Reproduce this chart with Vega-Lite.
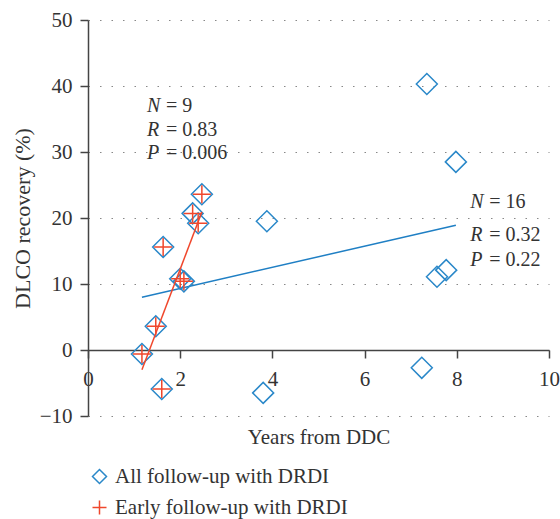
{
  "$schema": "https://vega.github.io/schema/vega-lite/v6.json",
  "width": 461,
  "height": 396,
  "autosize": {"type": "none"},
  "padding": {"left": 88, "top": 20, "right": 11, "bottom": 103},
  "config": {
    "view": {"stroke": null},
    "font": "Liberation Serif",
    "axis": {
      "labelFont": "Liberation Serif",
      "titleFont": "Liberation Serif",
      "labelFontSize": 21,
      "titleFontSize": 21,
      "titleFontWeight": "normal",
      "labelColor": "#333333",
      "titleColor": "#333333",
      "domainColor": "#444444",
      "tickColor": "#444444",
      "domainWidth": 1.5,
      "tickWidth": 1.5,
      "tickSize": 8
    },
    "legend": {
      "labelFont": "Liberation Serif",
      "labelFontSize": 21,
      "labelColor": "#333333",
      "labelLimit": 0
    }
  },
  "datasets": {
    "points": [
      {"years": 1.17, "dlco": -0.6, "early": true},
      {"years": 1.47, "dlco": 3.6, "early": true},
      {"years": 1.63, "dlco": 15.6, "early": true},
      {"years": 1.6, "dlco": -5.9, "early": true},
      {"years": 2.0, "dlco": 10.8, "early": true},
      {"years": 2.08, "dlco": 10.4, "early": true},
      {"years": 2.27, "dlco": 20.7, "early": true},
      {"years": 2.39, "dlco": 19.2, "early": true},
      {"years": 2.47, "dlco": 23.6, "early": true},
      {"years": 3.88, "dlco": 19.5, "early": false},
      {"years": 3.8, "dlco": -6.5, "early": false},
      {"years": 7.35, "dlco": 40.3, "early": false},
      {"years": 7.98, "dlco": 28.5, "early": false},
      {"years": 7.57, "dlco": 11.1, "early": false},
      {"years": 7.77, "dlco": 12.1, "early": false},
      {"years": 7.24, "dlco": -2.7, "early": false}
    ],
    "fits": [
      {"years": 1.17, "dlco": 8.0, "fit": "all"},
      {"years": 7.98, "dlco": 18.9, "fit": "all"},
      {"years": 1.17, "dlco": -3.0, "fit": "early"},
      {"years": 2.47, "dlco": 20.9, "fit": "early"}
    ],
    "notes": [
      {"years": 1.28, "dlco": 37.0, "letter": "N", "rest": "= 9"},
      {"years": 1.28, "dlco": 33.3, "letter": "R", "rest": "= 0.83"},
      {"years": 1.28, "dlco": 29.85, "letter": "P", "rest": "= 0.006"},
      {"years": 8.29, "dlco": 22.4, "letter": "N", "rest": "= 16"},
      {"years": 8.29, "dlco": 17.4, "letter": "R", "rest": "= 0.32"},
      {"years": 8.29, "dlco": 13.6, "letter": "P", "rest": "= 0.22"}
    ]
  },
  "encoding": {
    "x": {
      "field": "years",
      "type": "quantitative",
      "scale": {"domain": [0, 10], "nice": false, "zero": false},
      "axis": {
        "orient": "bottom",
        "offset": -66,
        "values": [0, 2, 4, 6, 8, 10],
        "grid": false,
        "labelFlush": false,
        "title": "Years from DDC",
        "labelPadding": 10,
        "titlePadding": 37
      }
    },
    "y": {
      "field": "dlco",
      "type": "quantitative",
      "scale": {"domain": [-10, 50], "nice": false, "zero": false},
      "axis": {
        "values": [-10, 0, 10, 20, 30, 40, 50],
        "grid": true,
        "gridDash": [1.5, 10],
        "gridColor": "#888888",
        "gridWidth": 1.2,
        "labelFlush": false,
        "title": "DLCO recovery (%)",
        "titleFontSize": 22,
        "labelPadding": 8,
        "titlePadding": 5
      }
    }
  },
  "layer": [
    {
      "data": {"name": "fits"},
      "transform": [{"filter": "datum.fit == 'all'"}],
      "mark": {"type": "line", "color": "#1f7fc4", "strokeWidth": 1.5},
      "encoding": {}
    },
    {
      "data": {"name": "points"},
      "mark": {"type": "point", "filled": false, "size": 441, "strokeWidth": 1.5, "opacity": 1},
      "encoding": {
        "shape": {
          "datum": "All follow-up with DRDI",
          "scale": {
            "domain": ["All follow-up with DRDI", "Early follow-up with DRDI"],
            "range": ["diamond", "M-1,0H1M0,-1V1"]
          },
          "legend": {
            "title": null,
            "orient": "none",
            "legendX": 1,
            "legendY": 446,
            "direction": "vertical",
            "symbolSize": 196,
            "symbolStrokeWidth": 1.5,
            "labelOffset": 5,
            "rowPadding": 9,
            "padding": 0
          }
        },
        "color": {
          "datum": "All follow-up with DRDI",
          "scale": {
            "domain": ["All follow-up with DRDI", "Early follow-up with DRDI"],
            "range": ["#2a88c9", "#f0472c"]
          },
          "legend": {
            "title": null,
            "orient": "none",
            "legendX": 1,
            "legendY": 446,
            "direction": "vertical",
            "symbolSize": 196,
            "symbolStrokeWidth": 1.5,
            "labelOffset": 5,
            "rowPadding": 9,
            "padding": 0
          }
        }
      }
    },
    {
      "data": {"name": "fits"},
      "transform": [{"filter": "datum.fit == 'early'"}],
      "mark": {"type": "line", "color": "#f0472c", "strokeWidth": 1.5},
      "encoding": {}
    },
    {
      "data": {"name": "points"},
      "transform": [{"filter": "datum.early"}],
      "mark": {"type": "point", "filled": false, "size": 324, "strokeWidth": 1.5, "opacity": 1},
      "encoding": {
        "shape": {"datum": "Early follow-up with DRDI"},
        "color": {"datum": "Early follow-up with DRDI"}
      }
    },
    {
      "data": {"name": "notes"},
      "mark": {"type": "text", "align": "left", "baseline": "middle", "fontSize": 20, "fontStyle": "italic", "color": "#333333", "font": "Liberation Serif"},
      "encoding": {"text": {"field": "letter"}}
    },
    {
      "data": {"name": "notes"},
      "mark": {"type": "text", "align": "left", "baseline": "middle", "fontSize": 20, "dx": 19, "color": "#333333", "font": "Liberation Serif"},
      "encoding": {"text": {"field": "rest"}}
    }
  ]
}
